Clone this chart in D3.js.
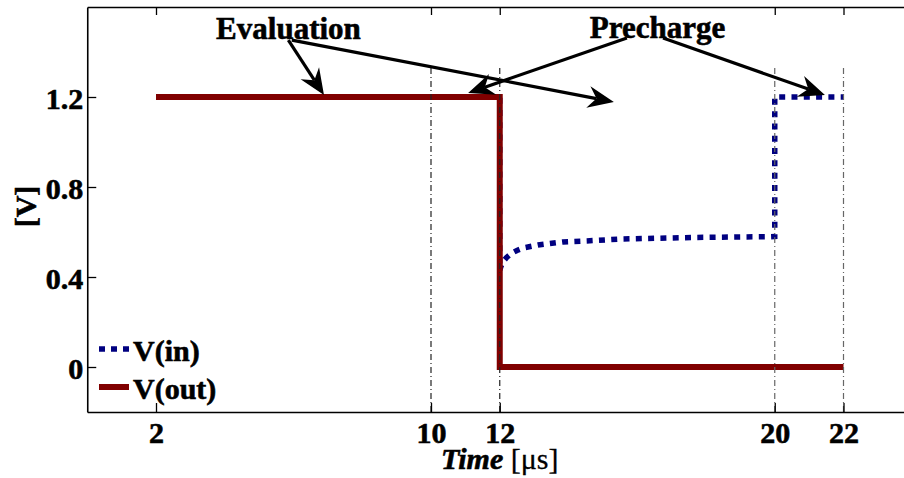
<!DOCTYPE html>
<html>
<head>
<meta charset="utf-8">
<script src="https://cdn.jsdelivr.net/npm/d3@7"></script>
<style>
  html, body { margin: 0; padding: 0; background: #fff; }
  svg { display: block; }
  text { font-family: "Liberation Serif", "Times New Roman", serif; }
</style>
</head>
<body>
<div id="chart"></div>
<script>
// ---- data ----
const tIn  = [2, 12, 12, 12.03, 12.09, 12.2, 12.36, 12.5, 12.68, 13.11, 13.84, 14.62, 15.58, 16.5, 17.74, 19, 19.86, 20, 20, 22];
const vIn  = [1.2, 1.2, 0.43, 0.445, 0.467, 0.487, 0.507, 0.518, 0.529, 0.542, 0.556, 0.561, 0.569, 0.572, 0.576, 0.578, 0.579, 0.58, 1.2, 1.2];
const tOut = [2, 12, 12, 22];
const vOut = [1.2, 1.2, 0, 0];

const guideTimes = [10, 12, 20, 22];
const xTicks = [2, 10, 12, 20, 22];
const yTicks = [0, 0.4, 0.8, 1.2];

const seriesNames = ["V(in)", "V(out)"];
const noteLabels = [
  { text: "Evaluation", t: 5.854, v: 1.458 },
  { text: "Precharge", t: 16.59, v: 1.462 }
];
// arrows: [tFrom, vFrom, tTo, vTo]
const noteArrows = [
  [5.85, 1.453, 6.887, 1.209],
  [5.95, 1.453, 15.32, 1.178],
  [15.70, 1.462, 11.08, 1.218],
  [16.75, 1.462, 21.46, 1.209]
];

// ---- layout ----
const W = 904, H = 478;
const margin = { left: 87.25, top: 7, right: -8.25, bottom: 66 };

const svg = d3.select("#chart").append("svg")
  .attr("width", W).attr("height", H);

svg.append("rect").attr("width", W).attr("height", H).attr("fill", "#fff");

const x = d3.scaleLinear().domain([0, 24]).range([margin.left, W - margin.right]);
const y = d3.scaleLinear().domain([-0.2, 1.6]).range([H - margin.bottom, margin.top]);

const fontSize = 30;
const boldText = sel => sel
  .style("font-weight", "bold")
  .attr("stroke", "#000")
  .attr("stroke-width", 0.6);

// ---- series ----
const line = d3.line().x(d => x(d[0])).y(d => y(d[1]));

svg.append("path")
  .datum(tIn.map((t, i) => [t, vIn[i]]))
  .attr("d", line)
  .attr("fill", "none")
  .attr("stroke", "#000080")
  .attr("stroke-width", 5.5)
  .attr("stroke-dasharray", "6,6.3");

svg.append("path")
  .datum(tOut.map((t, i) => [t, vOut[i]]))
  .attr("d", line)
  .attr("fill", "none")
  .attr("stroke", "#800000")
  .attr("stroke-width", 6);

// ---- dash-dot guides ----
svg.selectAll(".guide")
  .data(guideTimes)
  .join("line")
  .attr("class", "guide")
  .attr("x1", d => x(d)).attr("x2", d => x(d))
  .attr("y1", y(-0.2)).attr("y2", y(1.34))
  .attr("stroke", d => d < 15 ? "#222" : "#666")
  .attr("stroke-width", 1.2)
  .attr("stroke-dasharray", "6,3,1,3");

// ---- axes frame ----
const gx = svg.append("g").attr("transform", `translate(0,${y(-0.2)})`)
  .call(d3.axisBottom(x).tickValues(xTicks).tickSizeInner(-9).tickSizeOuter(0).tickPadding(10));
const gxTop = svg.append("g").attr("transform", `translate(0,${y(1.6)})`)
  .call(d3.axisTop(x).tickValues(xTicks).tickSizeInner(-8).tickSizeOuter(0).tickFormat(""));
const gy = svg.append("g").attr("transform", `translate(${x(0)},0)`)
  .call(d3.axisLeft(y).tickValues(yTicks).tickSizeInner(-9).tickSizeOuter(0).tickPadding(4)
    .tickFormat(d => d === 0 ? "0" : d3.format(".1f")(d)));

[gx, gxTop, gy].forEach(g => {
  g.select(".domain").attr("stroke", "#000").attr("stroke-width", 1.6);
  g.selectAll(".tick line").attr("stroke", "#000").attr("stroke-width", 1.3);
  g.selectAll(".tick text")
    .attr("fill", "#000")
    .style("font-family", '"Liberation Serif", "Times New Roman", serif')
    .style("font-size", fontSize + "px")
    .call(boldText);
});
gy.selectAll(".tick text").attr("dy", "0.38em");
gx.selectAll(".tick text").attr("dy", "0.71em");

// ---- axis titles ----
const xt = svg.append("text")
  .attr("x", (x(0) + x(24)) / 2)
  .attr("y", 469)
  .attr("text-anchor", "middle")
  .style("font-size", fontSize + "px");
xt.append("tspan").call(boldText).style("font-style", "italic").text("Time");
xt.append("tspan").attr("stroke", "#000").attr("stroke-width", 0.3).text(" [\u03bcs]");

svg.append("text")
  .attr("transform", `translate(36,${(y(-0.2) + y(1.6)) / 2 - 3}) rotate(-90)`)
  .attr("text-anchor", "middle")
  .style("font-size", fontSize + "px")
  .call(boldText)
  .text("[V]");

// ---- legend ----
const legend = svg.append("g").attr("transform", "translate(99,349)");
const legStyles = [
  { color: "#000080", width: 5.5, dash: "6,6" },
  { color: "#800000", width: 6, dash: null }
];
seriesNames.forEach((name, i) => {
  const row = legend.append("g").attr("transform", `translate(0,${i * 38})`);
  row.append("line")
    .attr("x1", 0).attr("x2", 30)
    .attr("stroke", legStyles[i].color)
    .attr("stroke-width", legStyles[i].width)
    .attr("stroke-dasharray", legStyles[i].dash);
  row.append("text")
    .attr("x", 34).attr("y", 12)
    .style("font-size", fontSize + "px")
    .call(boldText)
    .text(name);
});

// ---- annotations ----
svg.selectAll(".note")
  .data(noteLabels)
  .join("text")
  .attr("class", "note")
  .attr("x", d => x(d.t))
  .attr("y", d => y(d.v))
  .attr("text-anchor", "middle")
  .style("font-size", "31px")
  .call(boldText)
  .text(d => d.text);

const headL = 26, headW = 11, notch = 0.68;
noteArrows.forEach(a => {
  const x1 = x(a[0]), y1 = y(a[1]), x2 = x(a[2]), y2 = y(a[3]);
  const ang = Math.atan2(y2 - y1, x2 - x1) * 180 / Math.PI;
  const len = Math.hypot(x2 - x1, y2 - y1);
  const g = svg.append("g").attr("transform", `translate(${x1},${y1}) rotate(${ang})`);
  g.append("line")
    .attr("x1", 0).attr("y1", 0)
    .attr("x2", len - headL * notch).attr("y2", 0)
    .attr("stroke", "#000").attr("stroke-width", 3.2);
  g.append("path")
    .attr("d", `M${len},0 L${len - headL},${-headW} L${len - headL * notch},0 L${len - headL},${headW} Z`)
    .attr("fill", "#000");
});
</script>
</body>
</html>
